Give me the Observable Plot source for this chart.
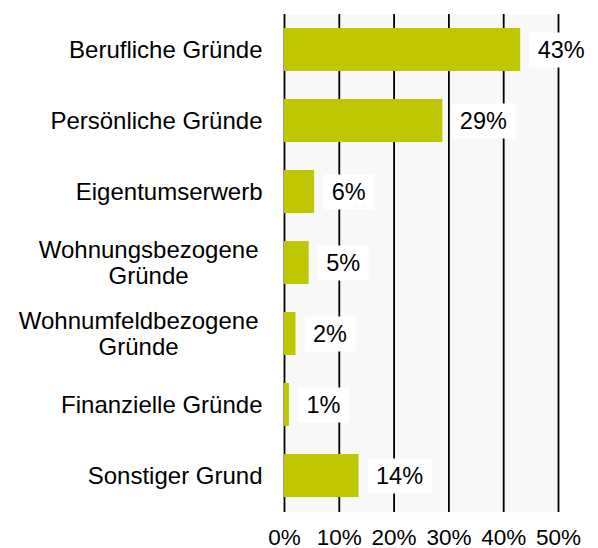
<!DOCTYPE html>
<html><head><meta charset="utf-8">
<script src="https://cdn.jsdelivr.net/npm/d3@7"></script>
<script src="https://cdn.jsdelivr.net/npm/@observablehq/plot@0.6"></script>
<style>body{margin:0;background:#fff;} svg{display:block}</style>
</head><body>
<script>
const categories = ["Berufliche Gründe", "Persönliche Gründe", "Eigentumserwerb", "Wohnungsbezogene Gründe", "Wohnumfeldbezogene Gründe", "Finanzielle Gründe", "Sonstiger Grund"];
const values = [43.1, 28.9, 5.5, 4.5, 2.1, 0.9, 13.6];
const xTicks = [0, 10, 20, 30, 40, 50];
const data = categories.map((c, i) => ({category: c, value: values[i]}));

const chart = Plot.plot({
  width: 598, height: 548,
  marginLeft: 284, marginRight: 40, marginTop: 14, marginBottom: 36,
  style: {fontFamily: "'Liberation Sans', Arial, sans-serif", fontSize: "22px", color: "#000", background: "#fff"},
  x: {domain: [0, 50]},
  y: {domain: categories, paddingInner: 0.394, paddingOuter: 0.197},
  marks: [
    Plot.frame({fill: "#f8f8f8", stroke: "none"}),
    Plot.ruleX(xTicks, {stroke: "#000", strokeWidth: 1.8}),
    Plot.barX(data, {x: "value", y: "category", fill: "#bfc700"}),
    Plot.text(data, {x: "value", y: "category", text: d => Math.round(d.value) + "%", textAnchor: "start", dx: 17, fontSize: 23.5, fill: "#000"}),
    Plot.axisX({ticks: xTicks, tickSize: 0, tickPadding: 17, tickFormat: d => d + "%", label: null, fontSize: 22.5}),
    Plot.axisY({tickSize: 0, tickPadding: 22, label: null, fontSize: 24, tickFormat: d => d.replace("bezogene ", "bezogene\n")})
  ]
});
document.body.appendChild(chart);

// multi-line category labels: lines centred on each other
const yg = chart.querySelector('g[aria-label="y-axis tick label"]');
if (yg) {
  yg.querySelectorAll("text").forEach(t => {
    const tspans = t.querySelectorAll("tspan");
    if (tspans.length > 1) {
      let w = 0;
      tspans.forEach(s => { w = Math.max(w, s.getComputedTextLength()); });
      t.setAttribute("text-anchor", "middle");
      tspans.forEach((s, i) => {
        s.setAttribute("x", -w / 2 - 4);
        s.removeAttribute("dy");
        s.setAttribute("y", (i === 0 ? -0.22 : 0.88) + "em");
      });
    }
  });
}

// white boxes behind value labels
const tg = chart.querySelector('g[aria-label="text"]');
if (tg) {
  tg.querySelectorAll("text").forEach(t => {
    const b = t.getBBox();
    const r = document.createElementNS("http://www.w3.org/2000/svg", "rect");
    r.setAttribute("x", b.x - 8.5);
    r.setAttribute("y", -17.5);
    r.setAttribute("width", b.width + 17);
    r.setAttribute("height", 35);
    r.setAttribute("fill", "#fff");
    r.setAttribute("transform", t.getAttribute("transform") || "");
    tg.insertBefore(r, t);
  });
}
</script>
</body></html>
